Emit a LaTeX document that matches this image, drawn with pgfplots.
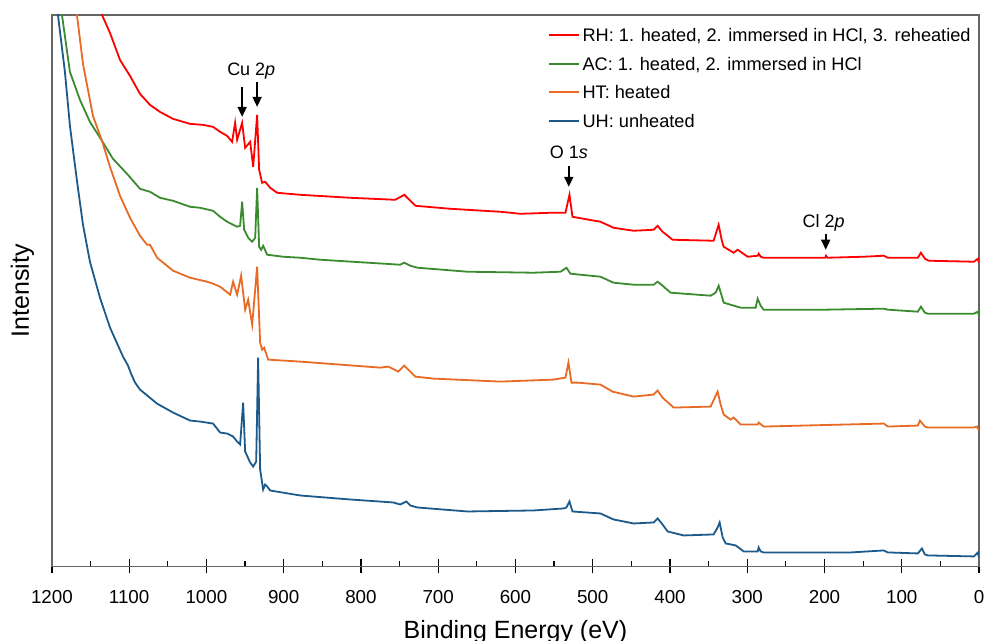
\documentclass[border=0pt]{standalone}
\usepackage{fontspec}
\setmainfont{Liberation Sans}
\usepackage{pgfplots}
\pgfplotsset{compat=1.18}
\usetikzlibrary{arrows.meta}

\definecolor{rhred}{HTML}{FF0000}
\definecolor{acgreen}{HTML}{3A8A2E}
\definecolor{htorange}{HTML}{E86A24}
\definecolor{uhblue}{HTML}{1B5A8A}
\newcommand\ls{\rule[-2.2pt]{0pt}{10.2pt}}

\begin{document}
\begin{tikzpicture}
\begin{axis}[
  scale only axis, width=464pt, height=276pt,
  x dir=reverse, xmin=0, xmax=1200, ymin=0, ymax=552,
  xtick={0,100,...,1200}, xtick pos=bottom, ytick=\empty,
  xtick align=center, major tick length=7pt,
  extra x ticks={50,150,...,1150}, extra x tick labels={},
  extra x tick style={xtick align=inside, major tick length=2.5pt},
  axis line style={draw=black!60, line width=0.6pt},
  every tick/.style={black, line width=0.6pt},
  scaled x ticks=false,
  /pgf/number format/assume math mode=true, /pgf/number format/1000 sep={},
  tick label style={font=\fontsize{9.4}{11}\selectfont},
  xticklabel style={yshift=-5pt},
  xlabel={Binding Energy (eV)}, ylabel={Intensity},
  xlabel style={at={(axis description cs:0.5,0)}, anchor=base, yshift=-36pt, font=\fontsize{12.5}{15}\selectfont},
  ylabel style={at={([xshift=-11.5pt]axis description cs:0,0.5)}, anchor=base, font=\fontsize{12.5}{15}\selectfont},
  legend style={draw=none, fill=none, at={(axis description cs:1,1)}, anchor=north east,
    yshift=-2.2pt, font=\fontsize{9.1}{11}\selectfont, row sep=2.8pt, nodes={inner sep=1pt}},
  legend cell align=left,
  legend image code/.code={\draw[#1, line width=1.1pt] (0pt,0pt) -- (15pt,0pt);},
]
\addplot[rhred, line width=0.9pt] table {
x y
1139.1 572
1135.2 552
1124.8 534
1111.9 507
1098.9 491
1086.0 473
1073.0 462
1060.1 455
1043.2 448
1021.2 443
1004.3 442
991.4 440
982.3 435
973.2 431
966.8 425
962.9 444
960.3 427
953.8 444
949.9 419
943.4 425
939.5 400
934.4 452
931.8 397
927.9 384
924.0 385
917.5 379
908.4 374
878.6 372
813.9 369
755.6 367
743.9 372
729.6 361
684.3 358
619.5 355
593.6 353
554.7 354
535.3 354
530.1 372
526.2 350
511.9 348
489.9 345
473.1 339
447.1 336
421.2 337
416.0 341
409.6 335
396.6 327
343.5 326
337.0 342
333.1 327
330.5 320
317.6 314
312.4 317
299.4 310
286.5 311
285.2 313
282.6 310
278.7 309
199.0 309
198.0 311
196.0 309
149.1 310
123.2 311
118.0 309
79.1 309
75.2 314
70.0 308
64.9 306
6.6 305
1.4 308
0.0 304
};
\addlegendentry{\ls RH: 1. heated, 2. immersed in HCl, 3. reheatied}
\addplot[acgreen, line width=0.9pt] table {
x y
1190.9 573
1187.0 552
1176.7 495
1163.7 467
1150.8 445
1135.2 426
1121.0 408
1102.8 393
1086.0 378
1073.0 375
1060.1 369
1043.2 366
1021.2 360
1008.2 359
991.4 356
982.3 350
973.2 345
960.3 340
956.4 341
953.8 365
951.2 337
946.0 329
940.8 325
936.9 329
934.4 379
931.8 320
929.2 317
926.6 321
921.4 312
900.7 310
878.6 309
852.7 307
749.1 302
743.9 304
736.1 301
727.0 299
662.2 295
576.7 294
541.7 295
534.0 299
528.8 293
489.9 290
473.1 284
447.1 282
421.2 282
416.0 285
409.6 281
399.2 274
347.4 271
340.9 274
337.0 281
333.1 271
330.5 264
308.5 259
289.1 259
286.5 268
282.6 261
278.7 257
199.0 257
123.2 258
118.0 257
79.1 255
75.2 260
70.0 254
66.2 253
6.6 253
1.4 255
0.0 251
};
\addlegendentry{\ls AC: 1. heated, 2. immersed in HCl}
\addplot[htorange, line width=0.9pt] table {
x y
1171.5 577
1167.6 552
1159.8 503
1146.9 451
1135.2 426
1124.8 400
1111.9 371
1098.9 349
1086.0 331
1076.9 322
1073.0 322
1063.9 309
1043.2 296
1021.2 289
999.2 285
991.4 283
982.3 280
969.3 272
965.5 285
960.3 272
955.1 291
949.9 257
946.0 267
940.8 242
934.4 300
930.5 224
927.9 217
925.3 219
920.1 207
878.6 205
775.0 199
764.6 200
751.7 195
743.9 201
729.6 190
706.3 188
619.5 185
550.8 187
535.3 189
531.4 204
527.5 184
519.7 184
489.9 182
474.4 175
447.1 170
421.2 172
416.0 176
409.6 169
395.3 159
347.4 160
338.3 175
334.4 162
330.5 152
321.5 147
317.6 149
308.5 142
286.5 142
285.2 144
278.7 140
123.2 143
118.0 140
79.1 141
76.5 146
70.0 140
66.2 139
6.6 139
2.7 140
0.0 136
};
\addlegendentry{\ls HT: heated}
\addplot[uhblue, line width=0.9pt] table {
x y
1197.4 577
1192.2 552
1183.2 495
1176.7 441
1167.6 386
1159.8 342
1150.8 305
1137.8 269
1124.8 239
1108.0 210
1101.5 201
1097.6 193
1092.4 184
1086.0 177
1064.0 163
1043.2 154
1021.2 146
1008.2 145
991.4 143
982.3 134
973.2 133
965.5 130
960.3 125
956.4 122
952.5 164
949.9 115
943.4 104
939.5 100
935.6 105
933.1 209
930.5 97
926.6 77
924.0 82
921.4 80
917.5 76
878.6 71
813.9 67
758.1 64
749.1 62
741.3 65
736.1 61
727.0 59
662.2 55
576.7 56
537.8 58
534.0 59
530.1 65
526.2 55
489.9 53
473.1 47
447.1 43
421.2 44
416.0 48
409.6 42
403.1 35
382.3 31
343.5 32
338.3 39
335.7 44
331.8 29
327.9 23
314.9 21
304.6 15
286.5 15
285.2 19
282.6 15
278.7 14
230.8 14
165.8 14
123.2 16
118.0 14
79.1 13
73.9 18
70.0 12
66.2 11
6.6 10
1.4 14
0.0 9
};
\addlegendentry{\ls UH: unheated}

% peak labels
\draw[-{Triangle[length=5pt,width=4.5pt]}, line width=0.8pt] (axis cs:953.8,480) -- (axis cs:953.8,450);
\draw[-{Triangle[length=5pt,width=4.5pt]}, line width=0.8pt] (axis cs:934.4,485) -- (axis cs:934.4,460);
\node[anchor=base, font=\fontsize{9}{11}\selectfont] at (axis cs:942,491) {Cu 2\textit{p}};
\draw[-{Triangle[length=5pt,width=4.5pt]}, line width=0.8pt] (axis cs:531,401) -- (axis cs:531,380);
\node[anchor=base, font=\fontsize{9}{11}\selectfont] at (axis cs:531,408) {O 1\textit{s}};
\draw[-{Triangle[length=5pt,width=4.5pt]}, line width=0.8pt] (axis cs:198.4,333) -- (axis cs:198.4,317);
\node[anchor=base, font=\fontsize{9}{11}\selectfont] at (axis cs:201,339) {Cl 2\textit{p}};

\coordinate (bl) at (axis cs:1200,0);
\coordinate (tr) at (axis cs:0,552);
\end{axis}
\pgfresetboundingbox
\path[use as bounding box] ([xshift=-26pt,yshift=-37pt]bl) rectangle ([xshift=3pt,yshift=7.5pt]tr);
\end{tikzpicture}
\end{document}
